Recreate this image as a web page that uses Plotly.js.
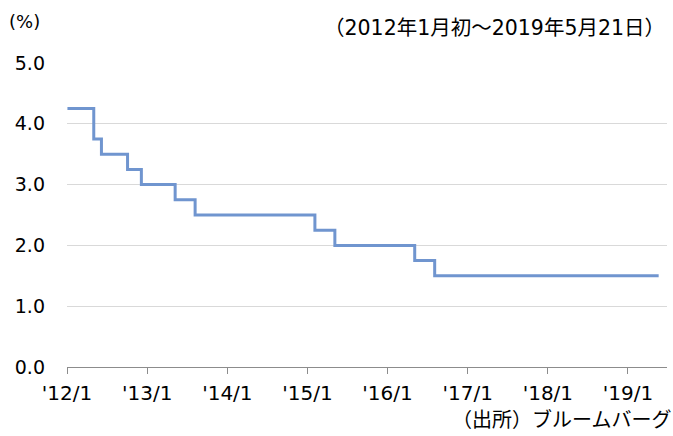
<!DOCTYPE html>
<html>
<head>
<meta charset="utf-8">
<script src="https://cdn.plot.ly/plotly-3.0.1.min.js"></script>
<style>html,body{margin:0;padding:0;background:#fff;}#chart{width:673px;height:436px;}</style>
</head>
<body>
<div id="chart"></div>
<script>
var dates = ['2012-01-03','2012-05-02','2012-06-06','2012-10-03','2012-12-05','2013-05-08','2013-08-07','2015-02-04','2015-05-06','2016-05-04','2016-08-03','2019-05-21'];
var rates = [4.25,3.75,3.50,3.25,3.00,2.75,2.50,2.25,2.00,1.75,1.50,1.50];
var tickVals = ['2012-01-01','2013-01-01','2014-01-01','2015-01-01','2016-01-01','2017-01-01','2018-01-01','2019-01-01'];
var tickText = ["'12/1","'13/1","'14/1","'15/1","'16/1","'17/1","'18/1","'19/1"];
var yTicks = [0,1,2,3,4,5];
var yText = ['0.0','1.0','2.0','3.0','4.0','5.0'];

var fontFam = 'DejaVu Sans, Noto Sans CJK JP, sans-serif';
var trace = {
  x: dates, y: rates, type: 'scatter', mode: 'lines',
  line: {shape: 'hv', color: '#7095CF', width: 3},
  hoverinfo: 'skip'
};
var layout = {
  width: 673, height: 436,
  margin: {l: 67, r: 6, t: 63, b: 69},
  paper_bgcolor: '#fff', plot_bgcolor: '#fff',
  showlegend: false,
  font: {family: fontFam, size: 19, color: '#000'},
  xaxis: {
    type: 'date', range: ['2012-01-01','2019-06-28'],
    tickmode: 'array', tickvals: tickVals, ticktext: tickText,
    showgrid: false, zeroline: false,
    showline: true, linecolor: '#8c8c8c', linewidth: 1,
    ticks: 'outside', ticklen: 6, tickcolor: '#8c8c8c',
    ticklabelstandoff: 2,
    tickfont: {family: fontFam, size: 20, color: '#000'}
  },
  yaxis: {
    range: [0, 5], tickmode: 'array', tickvals: yTicks, ticktext: yText,
    showgrid: true, gridcolor: '#d9d9d9', gridwidth: 1,
    zeroline: false, showline: false, ticks: '',
    ticklabelstandoff: 21,
    tickfont: {family: fontFam, size: 19, color: '#000'}
  },
  annotations: [
    {text: '(%)', xref: 'paper', yref: 'paper', x: -0.1, y: 1.135, xanchor: 'left', yanchor: 'middle', showarrow: false, font: {family: fontFam, size: 18, color: '#000'}},
    {text: '（2012年1月初～2019年5月21日）', xref: 'paper', yref: 'paper', x: 1.0, y: 1.115, xanchor: 'right', yanchor: 'middle', showarrow: false, font: {family: fontFam, size: 20.5, color: '#000'}},
    {text: '（出所）ブルームバーグ', xref: 'paper', yref: 'paper', x: 1.01, y: -0.175, xanchor: 'right', yanchor: 'middle', showarrow: false, font: {family: fontFam, size: 20, color: '#000'}}
  ]
};
Plotly.newPlot('chart', [trace], layout, {displayModeBar: false, staticPlot: true});
</script>
</body>
</html>
